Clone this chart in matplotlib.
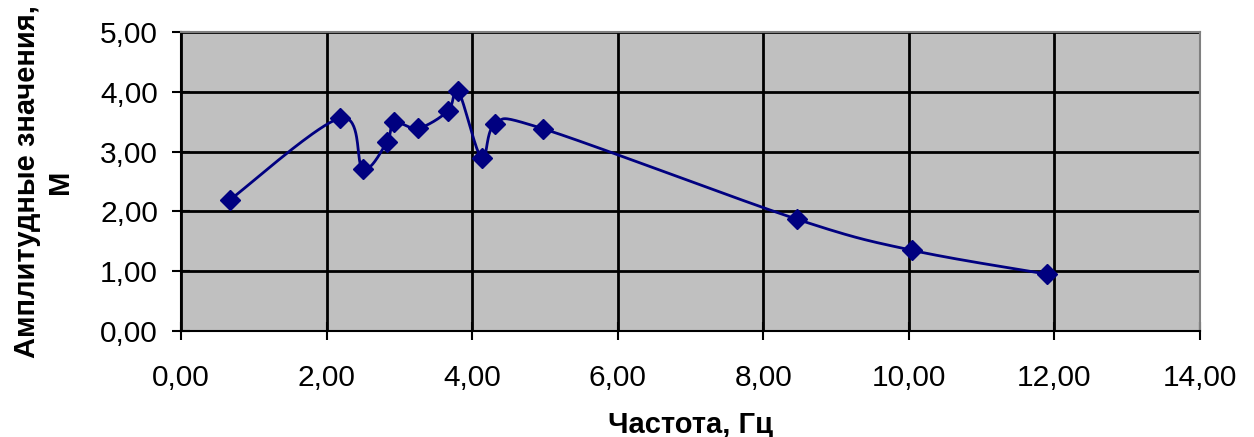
import numpy as np
import matplotlib
matplotlib.use("Agg")
import matplotlib.pyplot as plt
from matplotlib.ticker import FuncFormatter

freq = [0.67, 2.19, 2.50, 2.83, 2.93, 3.26, 3.67, 3.81, 4.13, 4.32, 4.98, 8.46, 10.04, 11.90]
ampl = [2.19, 3.56, 2.71, 3.16, 3.49, 3.39, 3.68, 4.01, 2.89, 3.46, 3.38, 1.87, 1.35, 0.95]

plt.rcParams['font.family'] = ['Liberation Sans', 'DejaVu Sans']


def smooth(x, y, sx, sy, n=40):
    # excel-like smoothed line: bezier through points, done in pixel-ish space
    p = np.column_stack([np.asarray(x) * sx, np.asarray(y) * sy])
    ext = np.vstack([p[0], p, p[-1]])
    out = []
    for i in range(len(p) - 1):
        p0, p1, p2, p3 = ext[i], ext[i + 1], ext[i + 2], ext[i + 3]
        c1 = p1 + (p2 - p0) / 6
        c2 = p2 - (p3 - p1) / 6
        t = np.linspace(0, 1, n)[:, None]
        seg = ((1 - t) ** 3) * p1 + 3 * ((1 - t) ** 2) * t * c1 + 3 * (1 - t) * t ** 2 * c2 + t ** 3 * p2
        out.append(seg)
    out = np.vstack(out)
    return out[:, 0] / sx, out[:, 1] / sy


fig = plt.figure(figsize=(12.54, 4.37), dpi=100)
ax = fig.add_axes([0.1443, 0.2426, 0.8127, 0.6842])
ax.set_facecolor('#C0C0C0')

sx, sy = smooth(freq, ampl, 72.7, 59.8)
ax.plot(sx, sy, color='#000080', lw=2, zorder=3)
ax.plot(freq, ampl, 'D', color='#000080', markersize=10, zorder=4)

ax.set_xlim(0, 14)
ax.set_ylim(0, 5)
ax.set_xticks(np.arange(0, 15, 2))
ax.set_yticks(np.arange(0, 6, 1))
fmt = FuncFormatter(lambda v, pos: f"{v:.2f}".replace('.', ','))
ax.xaxis.set_major_formatter(fmt)
ax.yaxis.set_major_formatter(fmt)
ax.grid(True, color='black', lw=2, zorder=1)
ax.set_axisbelow(True)
ax.tick_params(direction='inout', length=13, width=1.5, labelsize=21.5, colors='black')
ax.tick_params(axis='y', pad=10)
ax.tick_params(axis='x', pad=17)

for s in ['left', 'bottom']:
    ax.spines[s].set_color('black')
    ax.spines[s].set_linewidth(1.5)
for s in ['top', 'right']:
    ax.spines[s].set_color('#808080')
    ax.spines[s].set_linewidth(1.5)

ax.set_xlabel('Частота, Гц', fontsize=21, fontweight='bold', labelpad=14)
ax.set_ylabel('Амплитудные значения,\nМ', fontsize=21, fontweight='bold', labelpad=19)

fig.savefig('out.png', dpi=100)
